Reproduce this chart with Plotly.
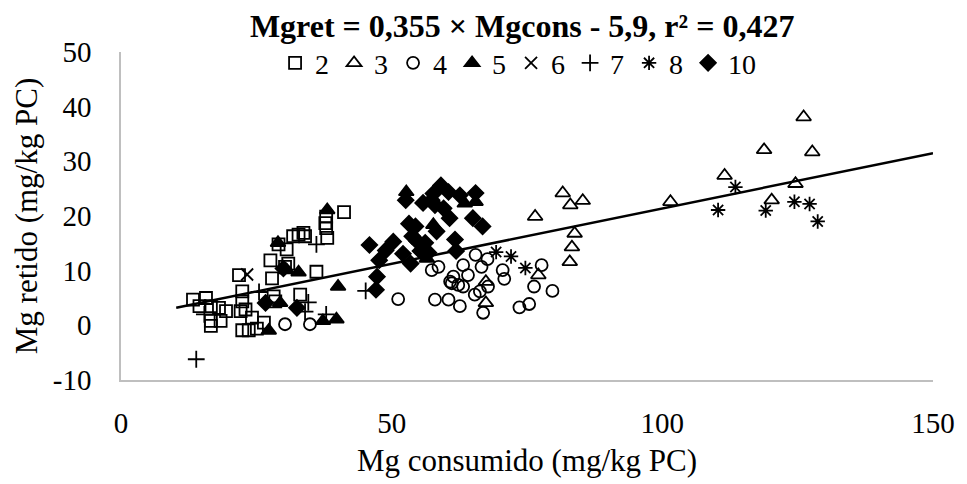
import plotly.graph_objects as go

# ---- data ----
s2_x = [41.2, 37.9, 37.75, 37.9, 38.1, 33.7, 32.8, 31.8, 34.0, 29.1, 30.6, 27.6, 30.9, 27.9, 36.1, 33.1,
        28.2, 22.4, 21.8, 22.4, 22.1, 22.4, 23.6, 25.1, 26.4, 24.2, 13.3, 15.7, 14.5, 16.6, 18.1, 19.4,
        18.4, 16.6, 16.6, 30.3, 23.0, 28.5]
s2_y = [20.7, 19.9, 18.7, 17.8, 16.0, 16.9, 16.6, 16.3, 16.3, 14.8, 13.9, 11.9, 11.3, 8.6, 9.8, 5.6,
        5.3, 6.2, 9.2, 4.4, 2.6, -0.9, -0.9, -0.6, 0.5, 1.4, 4.7, 5.0, 3.5, 3.5, 3.2, 2.6,
        0.8, 0.8, -0.1, 10.7, 2.9, 4.4]

s3_x = [81.6, 83.0, 85.3, 76.5, 83.8, 83.3, 82.9, 77.1, 67.4, 67.4, 126.1, 118.8, 127.7, 111.5, 124.6, 120.2, 101.5]
s3_y = [24.2, 22.0, 22.8, 19.9, 16.8, 14.3, 11.6, 9.2, 8.0, 4.1, 38.1, 32.1, 31.7, 27.4, 25.9, 22.9, 22.6]

s4_x = [51.2, 57.4, 58.65, 58.0, 60.5, 62.6, 65.5, 63.2, 66.6, 67.7, 61.4, 64.1, 61.1, 62.3, 63.2,
        65.35, 66.3, 67.8, 66.9, 70.5, 70.8, 73.6, 75.4, 76.3, 77.7, 79.7, 60.8, 30.3, 34.9]
s4_y = [4.8, 10.1, 10.7, 4.7, 4.7, 3.5, 12.9, 11.0, 10.7, 12.1, 8.9, 9.2, 7.7, 7.4, 7.1,
        5.6, 6.2, 7.1, 2.3, 10.1, 8.5, 3.3, 3.9, 7.1, 11.0, 6.3, 8.0, 0.2, 0.2]

s5_x = [38.1, 29.0, 30.6, 32.8, 40.1, 29.4, 27.3, 37.3, 39.8, 52.7, 63.5, 65.5, 57.7, 56.5]
s5_y = [21.1, 15.1, 10.1, 9.7, 7.1, 4.1, -0.95, 0.8, 1.1, 24.4, 22.3, 22.6, 18.4, 12.2]

s6_x = [23.3]
s6_y = [9.3]

s7_x = [13.9, 36.1, 45.2, 25.5, 34.6, 34.0, 37.9, 15.4]
s7_y = [-6.2, 14.8, 6.3, 6.1, 4.2, 2.5, 2.0, 2.0]

s8_x = [69.3, 72.05, 74.7, 113.5, 110.3, 119.1, 124.4, 127.2, 128.7]
s8_y = [13.4, 12.6, 10.5, 25.3, 21.1, 21.0, 22.6, 22.2, 19.0]

s10_x = [26.7, 30.0, 32.5, 45.9, 47.7, 47.3, 47.1, 48.9, 50.3, 52.1, 53.5, 53.2, 52.6, 54.4, 55.8,
         57.4, 57.7, 59.1, 60.5, 62.6, 65.5, 58.0, 59.6, 60.7, 65.0, 66.8, 54.7, 56.2, 55.3, 56.8,
         61.7, 61.9, 58.3, 53.8]
s10_y = [4.1, 10.4, 3.2, 14.7, 11.9, 8.9, 6.5, 13.7, 15.3, 13.1, 11.3, 18.6, 22.9, 18.1, 22.4,
         22.9, 24.1, 25.6, 24.4, 23.8, 24.2, 22.0, 21.4, 19.6, 19.6, 18.1, 15.4, 15.1, 13.6, 13.3,
         15.7, 13.6, 17.2, 16.3]

trend_x = [10.2, 150]
trend_y = [3.2, 31.5]

x_tick_vals = [0, 50, 100, 150]
x_tick_text = ["0", "50", "100", "150"]
y_tick_vals = [-10, 0, 10, 20, 30, 40, 50]
y_tick_text = ["-10", "0", "10", "20", "30", "40", "50"]

series = [
    ("2", s2_x, s2_y, "square-open", 12),
    ("3", s3_x, s3_y, "triangle-up-open", 13),
    ("4", s4_x, s4_y, "circle-open", 12),
    ("5", s5_x, s5_y, "triangle-up", 13),
    ("6", s6_x, s6_y, "x-thin", 12),
    ("7", s7_x, s7_y, "cross-thin", 12),
    ("8", s8_x, s8_y, "asterisk-open", 12),
    ("10", s10_x, s10_y, "diamond", 12),
]

FONT = "Liberation Serif, Times New Roman, serif"

fig = go.Figure()
for name, xs, ys, sym, size in series:
    fig.add_trace(go.Scatter(
        x=xs, y=ys, mode="markers", name=name,
        marker=dict(symbol=sym, size=size, color="black",
                    line=dict(color="black", width=1.8)),
    ))

fig.add_trace(go.Scatter(x=trend_x, y=trend_y, mode="lines", showlegend=False,
                         line=dict(color="black", width=2.5)))

fig.update_layout(
    width=967, height=484,
    paper_bgcolor="white", plot_bgcolor="white",
    margin=dict(l=121, r=25, t=52, b=97),
    font=dict(family=FONT, size=29, color="black"),
    title=dict(text="<b>Mgret = 0,355 × Mgcons - 5,9, r² = 0,427</b>",
               x=0.494, xref="paper", xanchor="center",
               y=1 - 26 / 484, yref="container", yanchor="middle",
               font=dict(family=FONT, size=32, color="black")),
    legend=dict(orientation="h", x=0.489, xanchor="center", y=0.966, yanchor="middle",
                font=dict(family=FONT, size=28), bgcolor="rgba(0,0,0,0)",
                itemwidth=30, tracegroupgap=0),
    showlegend=True,
)

fig.update_xaxes(range=[0, 150], tickvals=x_tick_vals, ticktext=x_tick_text,
                 showgrid=False, zeroline=False,
                 showline=True, linecolor="#bfbfbf", linewidth=1.5,
                 ticks="", ticklabelstandoff=16,
                 title=dict(text="Mg consumido (mg/kg PC)", standoff=12,
                            font=dict(family=FONT, size=31)))
fig.update_yaxes(range=[-10, 50], tickvals=y_tick_vals, ticktext=y_tick_text,
                 showgrid=False, zeroline=False,
                 showline=True, linecolor="#bfbfbf", linewidth=1.5,
                 ticks="", ticklabelstandoff=22,
                 title=dict(text="Mg retido (mg/kg PC)", standoff=6,
                            font=dict(family=FONT, size=31)))

fig.write_html("out.html")
